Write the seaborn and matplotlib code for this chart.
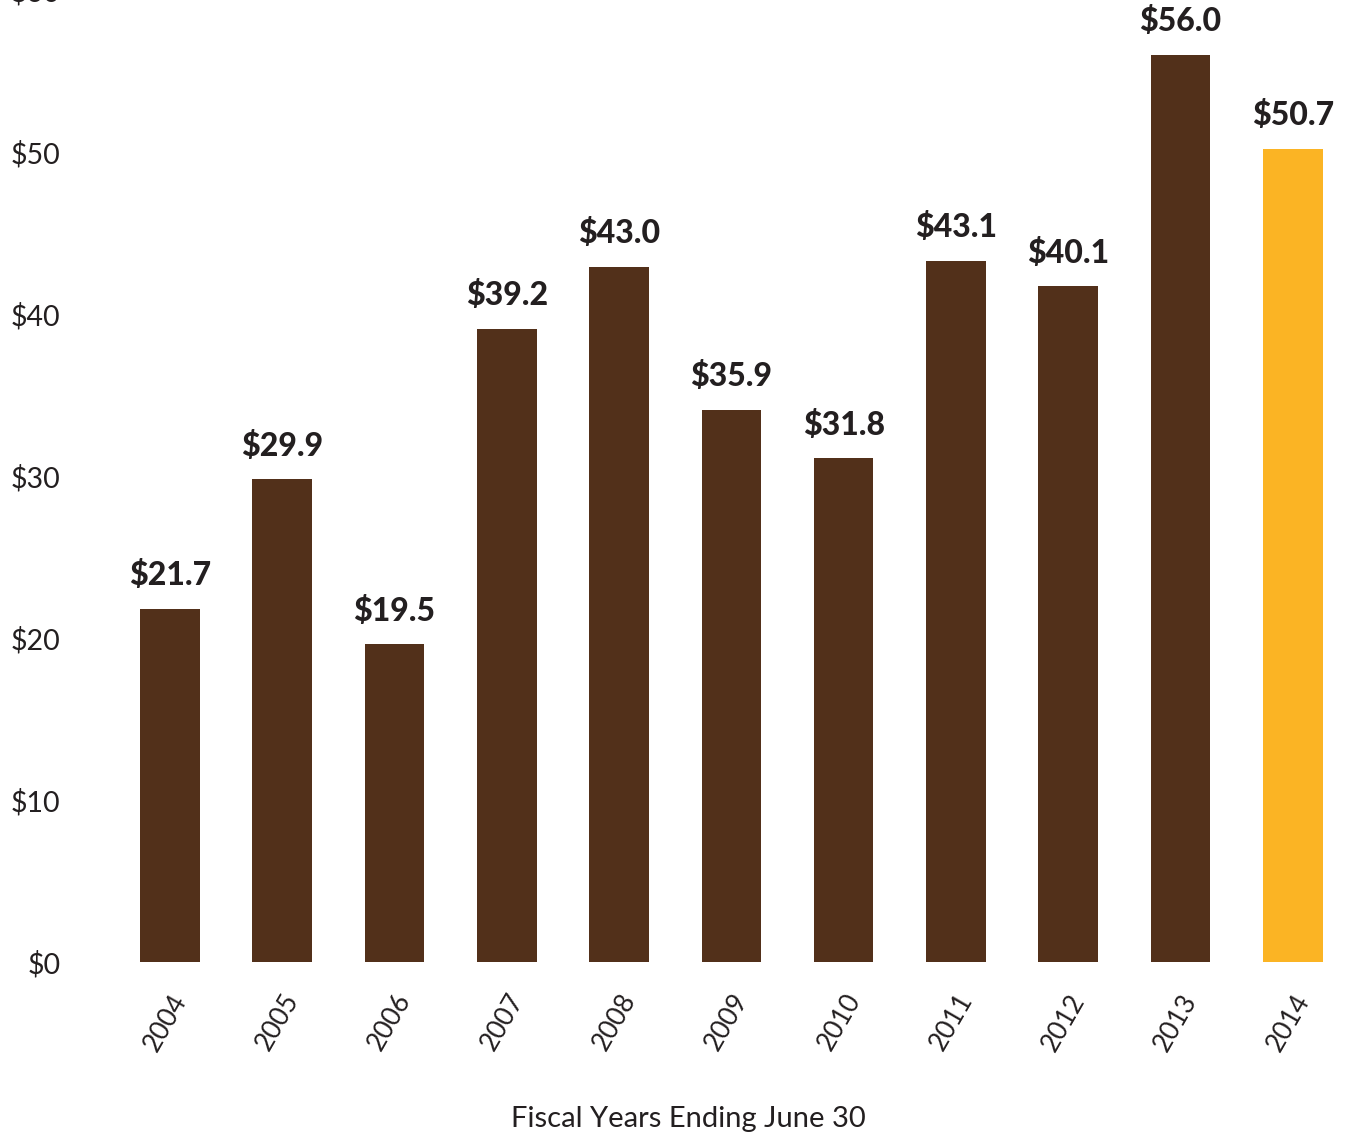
import matplotlib
matplotlib.use("Agg")
import matplotlib.pyplot as plt
import seaborn as sns
import pandas as pd

years = ["2004", "2005", "2006", "2007", "2008", "2009", "2010", "2011", "2012", "2013", "2014"]
bar_heights = [21.8, 29.8, 19.6, 39.1, 42.9, 34.1, 31.1, 43.3, 41.7, 56.0, 50.2]
value_labels = ["$21.7", "$29.9", "$19.5", "$39.2", "$43.0", "$35.9", "$31.8", "$43.1", "$40.1", "$56.0", "$50.7"]
y_ticks = [0, 10, 20, 30, 40, 50, 60]
x_title = "Fiscal Years Ending June 30"

brown = "#52301A"
gold = "#FBB424"
text_color = "#231F20"

sns.set_theme(style="white")
plt.rcParams["font.family"] = ["Lato", "DejaVu Sans"]

df = pd.DataFrame({"year": years, "value": bar_heights})
colors = [brown] * (len(years) - 1) + [gold]

fig = plt.figure(figsize=(13.49, 11.35), dpi=100)
ax = fig.add_axes([0.051, 0.1453, 0.949, 0.8635])

sns.barplot(data=df, x="year", y="value", hue="year", palette=colors, legend=False,
            width=0.53, saturation=1, ax=ax, edgecolor="none")

for i, (h, lab) in enumerate(zip(bar_heights, value_labels)):
    ax.text(i, h + 1.15, lab, ha="center", va="bottom", fontsize=23,
            fontweight="black", color=text_color)

ax.set_ylim(-0.5, 60)
ax.set_xlim(-0.9, 10.5)
ax.set_yticks(y_ticks)
ax.set_yticklabels([f"${t}" for t in y_ticks], fontsize=20.5, color=text_color)
ax.tick_params(axis="y", length=0, pad=6)
ax.tick_params(axis="x", length=0, pad=14)
for lbl in ax.get_xticklabels():
    lbl.set_rotation(60)
    lbl.set_ha("right")
    lbl.set_rotation_mode("anchor")
    lbl.set_fontsize(19)
    lbl.set_color(text_color)
ax.set_xlabel("")
ax.set_ylabel("")
sns.despine(ax=ax, left=True, bottom=True)
fig.text(0.51, 0.003, x_title, ha="center", va="bottom", fontsize=21, color=text_color)

fig.savefig("out.png", dpi=100)
